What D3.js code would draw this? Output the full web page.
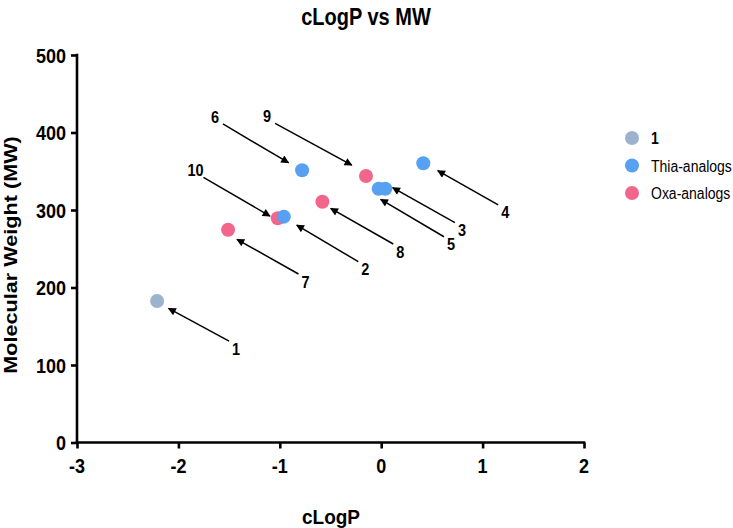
<!DOCTYPE html>
<html>
<head>
<meta charset="utf-8">
<script src="https://cdn.jsdelivr.net/npm/d3@7"></script>
<style>
  body { margin: 0; background: #fff; }
  svg { display: block; font-family: "Liberation Sans", Arial, Helvetica, sans-serif; }
</style>
</head>
<body>
<svg id="chart" width="733" height="528"></svg>
<script>
// ---- data ----
const compounds = ["1", "2", "3", "4", "5", "6", "7", "8", "9", "10"];
const cLogP     = [-2.21, -0.96, 0.04, 0.415, -0.025, -0.78, -1.51, -0.58, -0.15, -1.02];
const mw        = [182.6, 291.4, 327.5, 360.3, 327.5, 351.2, 274.6, 310.7, 343.9, 289.3];
const groups    = ["1", "Thia-analogs", "Thia-analogs", "Thia-analogs", "Thia-analogs", "Thia-analogs",
                   "Oxa-analogs", "Oxa-analogs", "Oxa-analogs", "Oxa-analogs"];
const seriesNames = ["1", "Thia-analogs", "Oxa-analogs"];
const xTicks = [-3, -2, -1, 0, 1, 2];
const yTicks = [0, 100, 200, 300, 400, 500];

// annotation arrows (data coordinates: tail near label, tip near point)
const annotLabel = ["1", "2", "3", "4", "5", "6", "7", "8", "9", "10"];
const annotSide  = ["lr", "lr", "lr", "lr", "lr", "ul", "lr", "lr", "ul", "ul"];
const annotTailX = [-1.500, -0.226, 0.727, 1.154, 0.619, -1.561, -0.816, 0.119, -1.046, -1.753];
const annotTailY = [130.7, 233.3, 283.6, 306.5, 265.5, 411.0, 217.4, 256.1, 411.8, 342.2];
const annotTipX  = [-2.097, -0.833, 0.113, 0.557, -0.005, -0.914, -1.422, -0.498, -0.290, -1.097];
const annotTipY  = [173.0, 280.6, 328.8, 350.8, 313.8, 361.0, 262.2, 302.1, 357.9, 292.2];

const colors = { "1": "#9cb2cd", "Thia-analogs": "#58a0f2", "Oxa-analogs": "#f2668e" };

// ---- layout ----
const SY = 1.17; // vertical stretch of glyphs seen in the reference
const svg = d3.select("#chart");
const x = d3.scaleLinear().domain([-3, 2]).range([77, 584]);
const y = d3.scaleLinear().domain([0, 500]).range([442.5, 55]);

function htext(g, px, py, str, size, weight, anchor, sy) {
  return g.append("text")
    .attr("transform", `translate(${px},${py}) scale(1,${sy === undefined ? SY : sy})`)
    .attr("text-anchor", anchor || "start")
    .attr("font-size", size).attr("font-weight", weight || "normal")
    .attr("fill", "#000").text(str);
}

// title
htext(svg, 366, 25, "cLogP vs MW", 20, "bold", "middle");

// axes (lines via d3 axis; labels drawn with stretched text)
const xAxis = svg.append("g").attr("transform", `translate(0,${y(0)})`)
  .call(d3.axisBottom(x).tickValues(xTicks).tickFormat("").tickSizeInner(6).tickSizeOuter(0));
const yAxis = svg.append("g").attr("transform", `translate(${x(-3)},0)`)
  .call(d3.axisLeft(y).tickValues(yTicks).tickFormat("").tickSizeInner(6).tickSizeOuter(0));
[xAxis, yAxis].forEach(g => {
  g.select(".domain").attr("stroke", "#000").attr("stroke-width", 2.6);
  g.selectAll(".tick line").attr("stroke", "#000").attr("stroke-width", 2.6);
});
xAxis.select(".domain").attr("d", `M${x(-3) - 1.3},0H${x(2) + 1.3}`);
yAxis.select(".domain").attr("d", `M0,${y(0) + 1.3}V${y(500) - 1.3}`);

const tl = svg.append("g");
xTicks.forEach(v => htext(tl, x(v), 473, String(v), 18, "bold", "middle"));
yTicks.forEach(v => htext(tl, x(-3) - 11, y(v) + 7.5, String(v), 18, "bold", "end"));

// axis titles
htext(svg, 331, 523.5, "cLogP", 19, "bold", "middle", 1.05);
svg.append("text")
  .attr("transform", `translate(17,255) rotate(-90) scale(${SY},1)`)
  .attr("text-anchor", "middle").attr("font-size", 18.5).attr("font-weight", "bold")
  .text("Molecular Weight (MW)");

// arrow marker
svg.append("defs").append("marker")
  .attr("id", "ah").attr("viewBox", "0 0 10 10").attr("refX", 9).attr("refY", 5)
  .attr("markerWidth", 10).attr("markerHeight", 8).attr("markerUnits", "userSpaceOnUse")
  .attr("orient", "auto")
  .append("path").attr("d", "M0,0L10,5L0,10Z").attr("fill", "#000");

const ann = svg.append("g");
annotLabel.forEach((lab, i) => {
  const tx = x(annotTailX[i]), ty = y(annotTailY[i]);
  ann.append("line").attr("x1", tx).attr("y1", ty)
    .attr("x2", x(annotTipX[i])).attr("y2", y(annotTipY[i]))
    .attr("stroke", "#000").attr("stroke-width", 1.5).attr("marker-end", "url(#ah)");
  if (annotSide[i] === "lr") {
    htext(ann, tx + 3, ty + 13.5, lab, 14.5, "bold", "start");
  } else {
    htext(ann, tx - 8, ty - 1, lab, 14.5, "bold", "middle");
  }
});

// points: draw group order 1, Oxa, Thia (Thia on top)
const drawOrder = ["1", "Oxa-analogs", "Thia-analogs"];
const pts = compounds.map((c, i) => ({ c, x: cLogP[i], y: mw[i], g: groups[i] }));
pts.sort((a, b) => drawOrder.indexOf(a.g) - drawOrder.indexOf(b.g));
svg.append("g").selectAll("circle").data(pts).join("circle")
  .attr("cx", d => x(d.x)).attr("cy", d => y(d.y)).attr("r", 7)
  .attr("fill", d => colors[d.g]);

// legend
const leg = svg.append("g");
seriesNames.forEach((s, i) => {
  const ly = 138 + i * 27.5;
  leg.append("circle").attr("cx", 632).attr("cy", ly).attr("r", 7).attr("fill", colors[s]);
  htext(leg, 651, ly + 6, s, 14, s === "1" ? "bold" : "normal", "start");
});
</script>
</body>
</html>
